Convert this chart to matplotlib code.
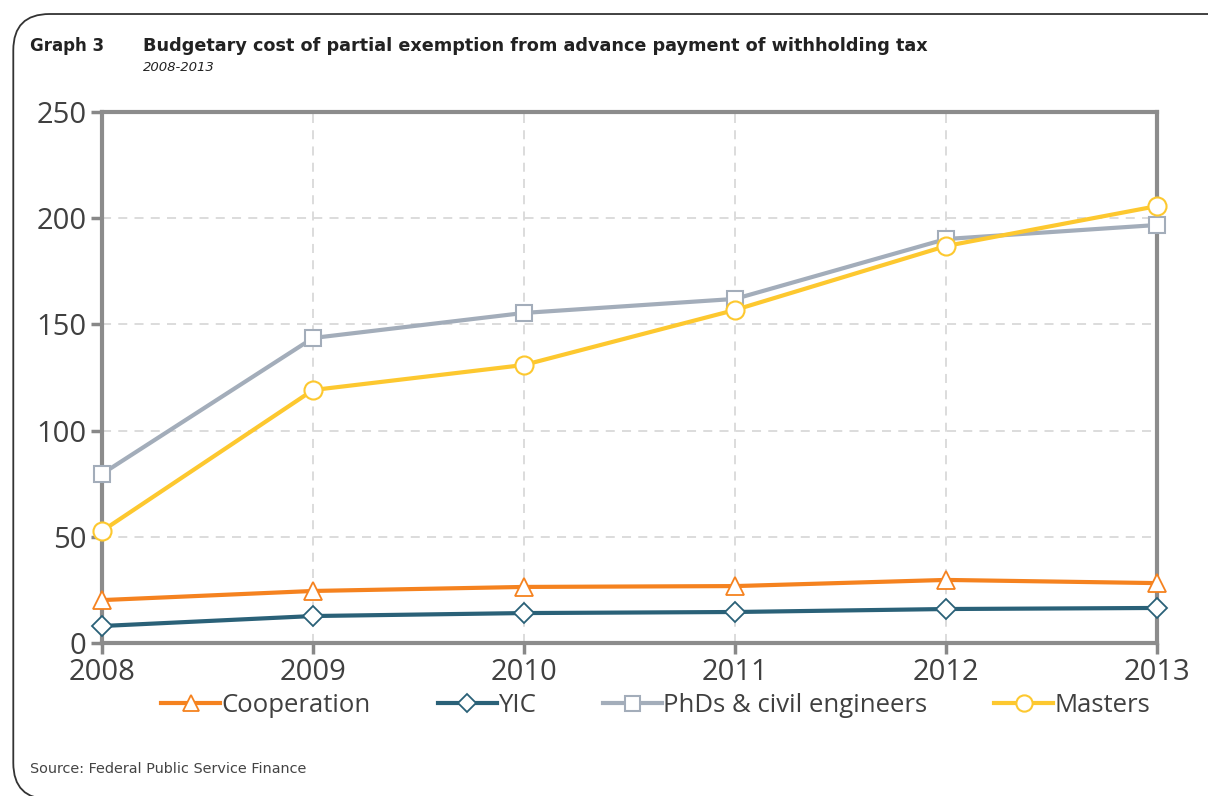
import matplotlib.pyplot as plt
from matplotlib.patches import FancyBboxPatch

# data
years = [2008, 2009, 2010, 2011, 2012, 2013]
cooperation = [20.2, 24.5, 26.4, 26.8, 29.7, 28.2]
yic = [8.0, 12.7, 14.1, 14.6, 16.0, 16.5]
phds = [79.6, 143.6, 155.4, 162.0, 190.2, 196.8]
masters = [52.7, 119.1, 130.9, 156.8, 186.9, 205.7]
y_ticks = [0, 50, 100, 150, 200, 250]

plt.rcParams['font.family'] = ['Open Sans', 'DejaVu Sans']

fig = plt.figure(figsize=(12.08, 7.96), dpi=100)

# rounded frame around the whole graph (right and bottom run off the image)
frame = FancyBboxPatch((0.011, -0.004), 1.2, 0.9864, boxstyle="round,pad=0,rounding_size=0.03",
                       transform=fig.transFigure, fill=False, edgecolor="#333333", linewidth=1.3,
                       mutation_aspect=1208 / 796)
fig.patches.append(frame)

fig.text(0.025, 0.936, "Graph 3", fontsize=12, fontweight="bold", color="#222222",
         family="DejaVu Sans")
fig.text(0.118, 0.936, "Budgetary cost of partial exemption from advance payment of withholding tax",
         fontsize=12.7, fontweight="bold", color="#222222", family="DejaVu Sans")
fig.text(0.118, 0.911, "2008-2013", fontsize=9.5, style="italic", color="#222222",
         family="DejaVu Sans")
fig.text(0.025, 0.029, "Source: Federal Public Service Finance", fontsize=10.4, color="#444444",
         family="DejaVu Sans")

ax = fig.add_axes([0.0844, 0.1922, 0.8734, 0.6671])

ax.plot(years, cooperation, color="#F5821F", linewidth=3, marker="^", markersize=13,
        markerfacecolor="white", markeredgecolor="#F5821F", markeredgewidth=1.3, label="Cooperation",
        clip_on=False, zorder=4)
ax.plot(years, yic, color="#2A6178", linewidth=3, marker="D", markersize=10,
        markerfacecolor="white", markeredgecolor="#2A6178", markeredgewidth=1.3, label="YIC",
        clip_on=False, zorder=4)
ax.plot(years, phds, color="#A3ADBA", linewidth=3, marker="s", markersize=12,
        markerfacecolor="white", markeredgecolor="#A3ADBA", markeredgewidth=1.5,
        label="PhDs & civil engineers", clip_on=False, zorder=4)
ax.plot(years, masters, color="#FDC82F", linewidth=3, marker="o", markersize=13,
        markerfacecolor="white", markeredgecolor="#FDC82F", markeredgewidth=1.5, label="Masters",
        clip_on=False, zorder=5)

ax.set_xlim(2008, 2013)
ax.set_ylim(0, 250)
ax.set_xticks(years)
ax.set_yticks(y_ticks)
ax.tick_params(axis="both", labelsize=21, colors="#888888", labelcolor="#404040",
               length=8, width=2.5, direction="out", pad=3)
ax.grid(True, color="#D9D9D9", linestyle=(0, (5, 4)), linewidth=1.3)
ax.set_axisbelow(True)
for s in ax.spines.values():
    s.set_color("#8C8C8C")
    s.set_linewidth(3)

leg = ax.legend(loc="upper center", bbox_to_anchor=(0.525, -0.05), ncol=4, frameon=False,
                fontsize=18.5, handlelength=2.3, handletextpad=0.05, columnspacing=2.6,
                markerscale=0.9)
for t in leg.get_texts():
    t.set_color("#404040")

fig.savefig("out.png", dpi=100)
